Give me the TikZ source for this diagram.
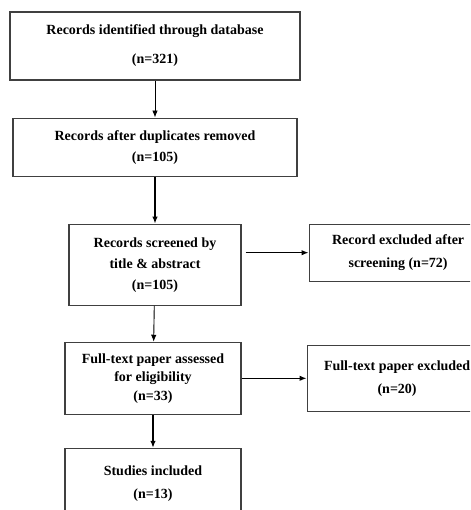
\documentclass[tikz,border=0pt]{standalone}
\usepackage{fontspec}
\setmainfont{Liberation Serif}
\usetikzlibrary{positioning,arrows.meta}
\usepackage{xcolor}

\begin{document}
\begin{tikzpicture}[
>={Latex[length=7pt,width=5.5pt]},
stagebox/.style={rectangle, draw=black!75, line width=1.1pt, align=center, font=\bfseries\fontsize{14}{21}\selectfont},
thinarrow/.style={->, line width=0.9pt},
thickarrow/.style={->, line width=1.6pt},
sidearrow/.style={->, line width=1.2pt},
]
\clip (0,0) rectangle (470pt,-510pt);

%Nodes
%%% Columna principal
\node[stagebox, minimum width=290pt, minimum height=68pt] (identified) at (155pt,-46pt) {Records identified through database\\[8pt](n=321)};
\node[stagebox, minimum width=284pt, minimum height=58pt] (afterDup) [below=37pt of identified] {Records after duplicates removed\\(n=105)};
\node[stagebox, minimum width=172pt, minimum height=81pt] (screened) [below=47pt of afterDup] {Records screened by\\title \& abstract\\(n=105)};
\node[stagebox, minimum width=176pt, minimum height=72pt, font=\bfseries\fontsize{14}{18.5}\selectfont] (assessed) [below=36pt of screened, xshift=-2pt] {Full-text paper assessed\\for eligibility\\(n=33)};
\node[stagebox, minimum width=176pt, minimum height=70pt, font=\bfseries\fontsize{14}{23}\selectfont] (included) [below=33pt of assessed] {Studies included\\(n=13)};

%%% Nodos excluidos
\node[stagebox, minimum width=178pt, minimum height=57pt, font=\bfseries\fontsize{14}{23}\selectfont] (excludedScreen) [right=67pt of screened.north east, anchor=north west] {Record excluded after\\screening (n=72)};
\node[stagebox, minimum width=180pt, minimum height=66pt, font=\bfseries\fontsize{14}{23}\selectfont] (excludedText) [right=65pt of assessed] {Full-text paper excluded\\(n=20)};

%Lines
%%% Verticales
\draw[thinarrow] (identified) -- (afterDup);
\draw[thickarrow] (afterDup) -- (screened);
\draw[thinarrow] (screened) -- (assessed);
\draw[thickarrow] (assessed) -- (included);

%%% Horizontales
\draw[sidearrow, shorten <=4pt] (screened.east |- excludedScreen.west) -- (excludedScreen.west);
\draw[sidearrow] (assessed) -- (excludedText);

\end{tikzpicture}
\end{document}
